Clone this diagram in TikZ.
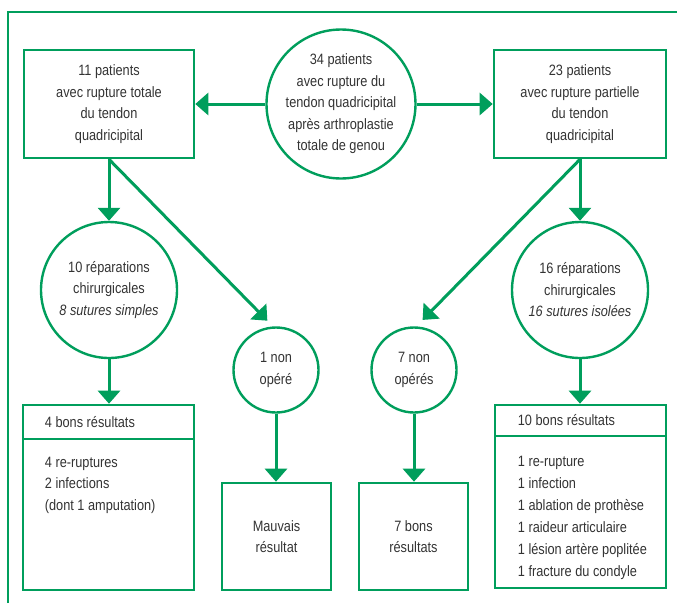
\documentclass[tikz,border=0pt]{standalone}
\usepackage{fontspec}
\setmainfont{Liberation Sans}[FakeStretch=0.85]
\usetikzlibrary{arrows.meta}
\definecolor{gruen}{HTML}{009E5C}
\definecolor{grau}{HTML}{333333}
\tikzset{
  pfeil/.style={-{Triangle[length=13pt,width=22pt]},gruen,line width=3pt},
  kasten/.style={draw=gruen,line width=2.6pt,text=grau,align=center,inner sep=0pt},
  kreis/.style={circle,draw=gruen,line width=2.4pt,text=grau,align=center,inner sep=0pt},
  liste/.style={text=grau,align=left,anchor=north west,inner sep=0pt},
  rahmen/.style={gruen,line width=2.4pt},
}

\begin{document}
\begin{tikzpicture}[x=1pt,y=-1pt,font=\fontsize{15}{21.5}\selectfont]
  \useasboundingbox (0,0) rectangle (677,603);
  \draw[rahmen] (8,603)--(8,12)--(677,12);
  % oben
  \node[kreis,minimum size=142pt] (alle) at (341,104) {34 patients\\avec rupture du\\tendon quadricipital\\après arthroplastie\\totale de genou};
  \node[kasten,minimum width=170pt,minimum height=108pt] (total) at (109,104) {11 patients\\avec rupture totale\\du tendon\\quadricipital};
  \node[kasten,minimum width=172pt,minimum height=108pt] (partiell) at (580,104) {23 patients\\avec rupture partielle\\du tendon\\quadricipital};
  % Mitte
  \node[kreis,minimum size=136pt] (repl) at (109,290) {10 réparations\\chirurgicales\\\textit{8 sutures simples}};
  \node[kreis,minimum size=136pt] (repr) at (580,290) {16 réparations\\chirurgicales\\\textit{16 sutures isolées}};
  \node[kreis,minimum size=85pt] (nonop1) at (276,370) {1 non\\opéré};
  \node[kreis,minimum size=85pt] (nonop7) at (414,370) {7 non\\opérés};
  % unten
  \node[kasten,minimum width=171pt,minimum height=34pt] (gkopf) at (108.5,422) {};
  \node[liste,anchor=west] (gkopftext) at ([xshift=23pt]gkopf.west) {4 bons résultats};
  \node[kasten,minimum width=171pt,minimum height=151pt] (gkorp) at (108.5,514.5) {};
  \node[liste] (gtext) at ([xshift=23pt,yshift=-19pt]gkorp.north west) {4 re-ruptures\\2 infections\\(dont 1 amputation)};
  \node[kasten,minimum width=109pt,minimum height=107pt] (mauvais) at (276.5,536.5) {Mauvais\\résultat};
  \node[kasten,minimum width=109pt,minimum height=107pt] (bons) at (413.5,536.5) {7 bons\\résultats};
  \node[kasten,minimum width=171pt,minimum height=31pt] (jkopf) at (580.5,420.5) {};
  \node[liste,anchor=west] (jkopftext) at ([xshift=24pt]jkopf.west) {10 bons résultats};
  \node[kasten,minimum width=171pt,minimum height=152pt] (jkorp) at (580.5,512) {};
  \node[liste,font=\fontsize{15}{22}\selectfont] (jtext) at ([xshift=24pt,yshift=-21pt]jkorp.north west) {1 re-rupture\\1 infection\\1 ablation de prothèse\\1 raideur articulaire\\1 lésion artère poplitée\\1 fracture du condyle};
  % Pfeile
  \draw[pfeil] (alle) -- (total);
  \draw[pfeil] (alle) -- (partiell);
  \draw[pfeil] (total.south) -- (repl.north);
  \draw[pfeil,shorten >=8pt] (total.south) -- (nonop1.94);
  \draw[pfeil] (partiell.south) -- (repr.north);
  \draw[pfeil,shorten >=9pt] (partiell.south) -- (nonop7.87);
  \draw[pfeil] (repl.south) -- (repl.south |- gkopf.north);
  \draw[pfeil] (repr.south) -- (repr.south |- jkopf.north);
  \draw[pfeil] (nonop1.south) -- (nonop1.south |- mauvais.north);
  \draw[pfeil] (nonop7.south) -- (nonop7.south |- bons.north);
\end{tikzpicture}
\end{document}
